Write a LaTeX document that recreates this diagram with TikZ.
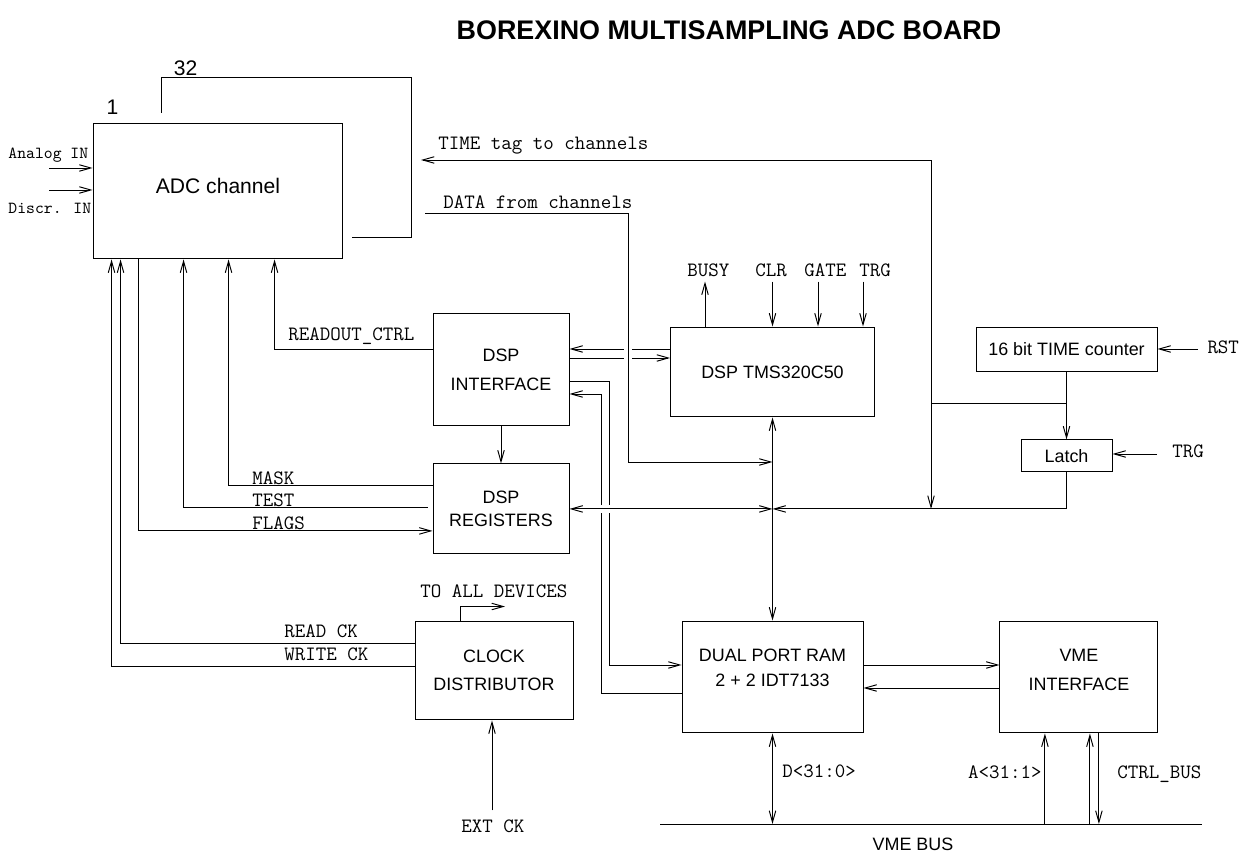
\documentclass[tikz,border=0pt]{standalone}
\usepackage{fontspec}
\setmainfont{Liberation Sans}
\usetikzlibrary{arrows.meta, positioning, calc}

\begin{document}
\begin{tikzpicture}[
  x=0.02cm, y=0.02cm,
  line width=0.55pt,
  >={Straight Barb[length=2.3mm, width=1.3mm]},
  box/.style={
    draw, inner sep=0pt, align=center,
    font=\fontsize{10.2}{12}\selectfont
  },
  sig/.style={font=\ttfamily\fontsize{11.6}{13}\selectfont, inner sep=0pt, anchor=base west},
  hop/.style={preaction={draw=white, line width=5pt, -, shorten <=2pt, shorten >=2pt}}
]
  \useasboundingbox (0,0) rectangle (1247,864);

  % Titolo
  \node[font=\bfseries\fontsize{15.3}{18}\selectfont] (title) at (729,834) {BOREXINO MULTISAMPLING ADC BOARD};

  % Blocchi principali
  \node[box, minimum width=5cm, minimum height=2.72cm, text depth=6pt,
        font=\fontsize{12}{14}\selectfont] (adc) at (218,673) {ADC channel};
  \node[box, minimum width=2.72cm, minimum height=2.26cm] (dspif) at (501,494.5) {DSP\\[4.4pt]INTERFACE};
  \node[box, minimum width=2.72cm, minimum height=1.8cm, below=0.74cm of dspif] (dspreg) {DSP\\[1pt]REGISTERS};
  \node[box, minimum width=4.08cm, minimum height=1.8cm] (dsp) at (772.5,492) {DSP TMS320C50};
  \node[box, minimum width=3.62cm, minimum height=0.9cm] (counter) at (1066.5,514.5) {16 bit TIME counter};
  \node[box, minimum width=1.82cm, minimum height=0.64cm, below=1.34cm of counter] (latch) {Latch};
  \node[box, minimum width=3.16cm, minimum height=1.98cm] (clock) at (494,193.5) {CLOCK\\[4pt]DISTRIBUTOR};
  \node[box, minimum width=3.62cm, minimum height=2.24cm, text depth=10pt] (dpram) at (772.5,187) {DUAL PORT RAM\\[2.2pt]2 + 2 IDT7133};
  \node[box, minimum width=3.16cm, minimum height=2.24cm, text depth=8pt, right=2.72cm of dpram] (vme) {VME\\[4.4pt]INTERFACE};

  % Canali 1 ... 32
  \draw ($(adc.north west)+(69,10)$) |- ($(adc.north east)+(68,45)$) |- ($(adc.south east)+(9,22)$);
  \node[font=\fontsize{12}{14}\selectfont] (ch1) at ($(adc.north west)+(20,15)$) {1};
  \node[font=\fontsize{12}{14}\selectfont] (ch32) at ($(adc.north west)+(93,54)$) {32};

  % Ingressi analogici
  \coordinate (ain) at (49,696);
  \coordinate (din) at (49,674);
  \draw[->] (ain) -- (ain -| adc.west);
  \draw[->] (din) -- (din -| adc.west);
  \node[sig, font=\ttfamily\fontsize{9.6}{11}\selectfont] (ainlbl) at (8,705) {Analog IN};
  \node[sig, font=\ttfamily\fontsize{9.6}{11}\selectfont] (dinlbl) at (8,650) {Discr. IN};

  % DSP interface <-> DSP
  \coordinate (ifup) at ($(dspif.east)+(0,20.5)$);
  \coordinate (ifdn) at ($(dspif.east)+(0,11.5)$);
  \draw[<-] (ifup) -- (ifup -| dsp.west);
  \draw[->] (ifdn) -- (ifdn -| dsp.west);

  % Dati dai canali
  \coordinate (data) at (425,651);
  \coordinate (datadn) at (628,402);
  \draw[->, hop] (data) -| (datadn) -- (datadn -| dpram.north);
  \node[sig] (datalbl) at (443,655) {DATA from channels};

  % DSP interface <-> dual port RAM
  \coordinate (ifo) at ($(dspif.east)+(0,-11.5)$);
  \coordinate (ifi) at ($(dspif.east)+(0,-24.5)$);
  \coordinate (ramin) at ($(dpram.west)+(0,12)$);
  \coordinate (ramout) at ($(dpram.west)+(0,-16)$);
  \draw[->] (ifo) -| ($(ramin)+(-72,0)$) -- (ramin);
  \draw[->] (ramout) -| ($(ifi)+(32,0)$) -- (ifi);

  % Bus interno
  \draw[<->, hop] (dspreg.east) -- (dspreg.east -| dpram.north);
  \draw[<->] (dsp.south -| dpram.north) -- (dpram.north);
  \draw[->] (latch.south) |- (dspreg.east -| dpram.north);

  % Contatore di tempo
  \coordinate (tsplit) at ($(counter.south)+(0,-31)$);
  \coordinate (tcol) at ($(tsplit)+(-135.5,0)$);
  \coordinate (tend) at (421,704);
  \draw[->] (counter.south) -- (latch.north);
  \draw (tsplit) -- (tcol);
  \draw[->] (tcol) |- (tend);
  \draw[->] (tcol) -- (tcol |- dspreg.east);
  \node[sig] (timelbl) at (438,714) {TIME tag to channels};

  \coordinate (rst) at (1198,515);
  \draw[->] (rst) -- (rst -| counter.east);
  \node[sig] (rstlbl) at (1207,510) {RST};
  \coordinate (ltrg) at (1157,410);
  \draw[->] (ltrg) -- (ltrg -| latch.east);
  \node[sig] (ltrglbl) at (1172,406) {TRG};

  % Segnali del DSP
  \coordinate (busy) at ($(dsp.north)+(-67.5,45)$);
  \coordinate (clr) at ($(dsp.north)+(0,45)$);
  \coordinate (gate) at ($(dsp.north)+(45.5,45)$);
  \coordinate (trg) at ($(dsp.north)+(90.5,45)$);
  \draw[->] (busy |- dsp.north) -- (busy);
  \draw[->] (clr) -- (dsp.north);
  \draw[->] (gate) -- (gate |- dsp.north);
  \draw[->] (trg) -- (trg |- dsp.north);
  \node[sig] (busylbl) at (687,587) {BUSY};
  \node[sig] (clrlbl) at (755,587) {CLR};
  \node[sig] (gatelbl) at (804,587) {GATE};
  \node[sig] (trglbl) at (859,587) {TRG};

  % Controllo dei canali
  \coordinate (rdo) at ($(dspif.west)+(0,20.5)$);
  \draw[->] (rdo) -| ($(adc.south west)+(182,0)$);
  \node[sig] (rdolbl) at (288,523) {READOUT\_CTRL};
  \draw[->] (dspif) -- (dspreg);

  \coordinate (mask) at ($(dspreg.west)+(0,23)$);
  \coordinate (test) at ($(dspreg.west)+(-5,1)$);
  \coordinate (flags) at ($(dspreg.west)+(0,-22)$);
  \draw[->] (mask) -| ($(adc.south west)+(136,0)$);
  \draw[->] (test) -| ($(adc.south west)+(91,0)$);
  \draw[<-] (flags) -| ($(adc.south west)+(46,0)$);
  \node[sig] (masklbl) at (252,379) {MASK};
  \node[sig] (testlbl) at (252,357) {TEST};
  \node[sig] (flagslbl) at (252,334) {FLAGS};

  % Distribuzione del clock
  \coordinate (rck) at ($(clock.west)+(0,27.5)$);
  \coordinate (wck) at ($(clock.west)+(0,4.5)$);
  \draw[->] (rck) -| ($(adc.south west)+(28,0)$);
  \draw[->] (wck) -| ($(adc.south west)+(19,0)$);
  \node[sig] (rcklbl) at (284,226) {READ CK};
  \node[sig] (wcklbl) at (284,203) {WRITE CK};
  \coordinate (alldev) at ($(clock.north)+(11,14)$);
  \draw[->] ($(clock.north)+(-34,0)$) |- (alldev);
  \node[sig] (alllbl) at (420,266) {TO ALL DEVICES};
  \coordinate (extck) at ($(clock.south)+(-2,-90)$);
  \draw[->] (extck) -- (extck |- clock.south);
  \node[sig] (extlbl) at (461,31) {EXT CK};

  % RAM <-> VME
  \coordinate (rv) at ($(dpram.east)+(0,12)$);
  \coordinate (vr) at ($(dpram.east)+(0,-11)$);
  \draw[->] (rv) -- (rv -| vme.west);
  \draw[<-] (vr) -- (vr -| vme.west);

  % VME bus
  \coordinate (busl) at (660,40);
  \coordinate (busr) at (1202,40);
  \draw (busl) -- (busr);
  \node[font=\fontsize{10.2}{12}\selectfont] (vmebus) at (913,19.5) {VME BUS};
  \draw[<->] (dpram.south) -- (dpram.south |- busl);
  \coordinate (addr) at ($(vme.south)+(-34,0)$);
  \coordinate (ctrlup) at ($(vme.south)+(11,0)$);
  \coordinate (ctrldn) at ($(vme.south)+(20,0)$);
  \draw[->] (addr |- busl) -- (addr);
  \draw[->] (ctrlup |- busl) -- (ctrlup);
  \draw[->] (ctrldn) -- (ctrldn |- busl);
  \node[sig] (dlbl) at (782,86) {D<31:0>};
  \node[sig, anchor=base east] (albl) at (1042,85) {A<31:1>};
  \node[sig] (ctrllbl) at (1117,85) {CTRL\_BUS};

\end{tikzpicture}
\end{document}
